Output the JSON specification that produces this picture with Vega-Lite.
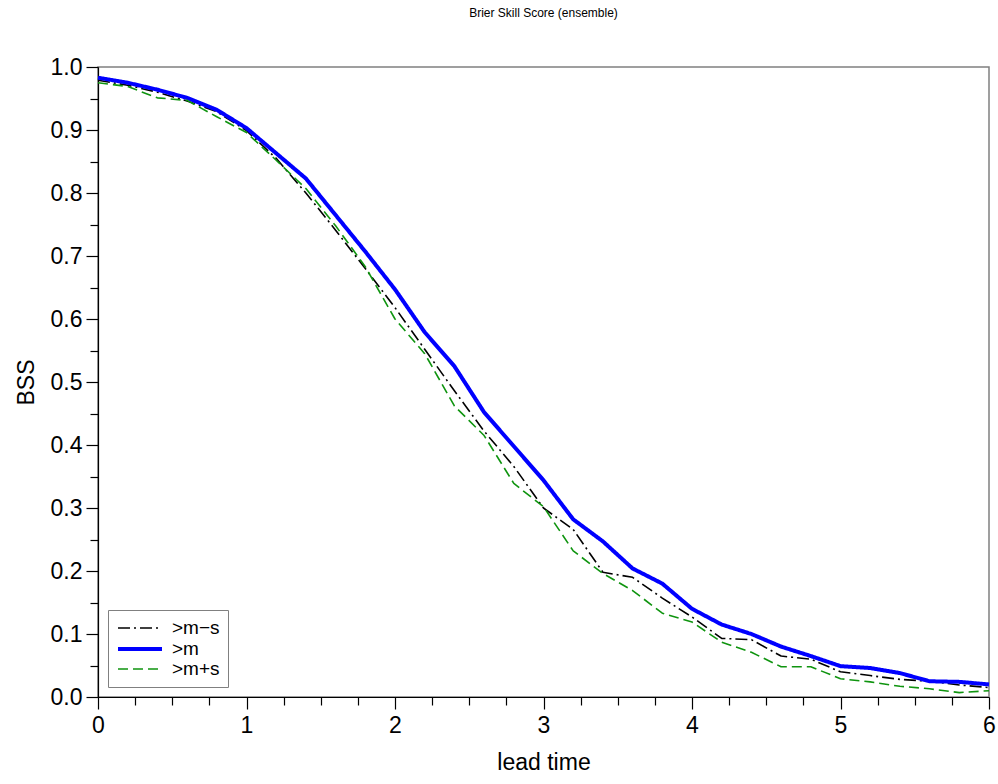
{
  "$schema": "https://vega.github.io/schema/vega-lite/v6.json",
  "width": 891,
  "height": 630,
  "autosize": "none",
  "padding": {"left": 98, "top": 67, "right": 9, "bottom": 87},
  "background": "white",
  "title": {
    "text": "Brier Skill Score (ensemble)",
    "font": "Liberation Sans",
    "fontSize": 12,
    "fontWeight": "normal",
    "color": "black",
    "anchor": "middle",
    "offset": 36
  },
  "config": {
    "font": "Liberation Sans",
    "view": {"stroke": "#808080", "strokeWidth": 1.5},
    "axis": {
      "grid": false,
      "domainColor": "black",
      "domainWidth": 1.2,
      "tickColor": "black",
      "tickWidth": 1.2,
      "labelColor": "black",
      "labelFont": "Liberation Sans",
      "labelFontSize": 23,
      "labelOverlap": false,
      "labelFlush": false,
      "titleColor": "black",
      "titleFont": "Liberation Sans",
      "titleFontSize": 23,
      "titleFontWeight": "normal"
    }
  },
  "data": {
    "values": [
      {"lead": 0.0, "series": ">m−s", "bss": 0.979},
      {"lead": 0.2, "series": ">m−s", "bss": 0.971},
      {"lead": 0.4, "series": ">m−s", "bss": 0.960},
      {"lead": 0.6, "series": ">m−s", "bss": 0.946},
      {"lead": 0.8, "series": ">m−s", "bss": 0.929},
      {"lead": 1.0, "series": ">m−s", "bss": 0.899},
      {"lead": 1.2, "series": ">m−s", "bss": 0.855},
      {"lead": 1.4, "series": ">m−s", "bss": 0.800},
      {"lead": 1.6, "series": ">m−s", "bss": 0.741},
      {"lead": 1.8, "series": ">m−s", "bss": 0.680},
      {"lead": 2.0, "series": ">m−s", "bss": 0.618},
      {"lead": 2.2, "series": ">m−s", "bss": 0.552},
      {"lead": 2.4, "series": ">m−s", "bss": 0.486},
      {"lead": 2.6, "series": ">m−s", "bss": 0.422},
      {"lead": 2.8, "series": ">m−s", "bss": 0.366},
      {"lead": 3.0, "series": ">m−s", "bss": 0.300},
      {"lead": 3.2, "series": ">m−s", "bss": 0.266},
      {"lead": 3.4, "series": ">m−s", "bss": 0.198},
      {"lead": 3.6, "series": ">m−s", "bss": 0.190},
      {"lead": 3.8, "series": ">m−s", "bss": 0.157},
      {"lead": 4.0, "series": ">m−s", "bss": 0.127},
      {"lead": 4.2, "series": ">m−s", "bss": 0.093},
      {"lead": 4.4, "series": ">m−s", "bss": 0.091},
      {"lead": 4.6, "series": ">m−s", "bss": 0.065},
      {"lead": 4.8, "series": ">m−s", "bss": 0.060},
      {"lead": 5.0, "series": ">m−s", "bss": 0.040},
      {"lead": 5.2, "series": ">m−s", "bss": 0.034},
      {"lead": 5.4, "series": ">m−s", "bss": 0.028},
      {"lead": 5.6, "series": ">m−s", "bss": 0.025},
      {"lead": 5.8, "series": ">m−s", "bss": 0.019},
      {"lead": 6.0, "series": ">m−s", "bss": 0.015},

      {"lead": 0.0, "series": ">m", "bss": 0.983},
      {"lead": 0.2, "series": ">m", "bss": 0.975},
      {"lead": 0.4, "series": ">m", "bss": 0.964},
      {"lead": 0.6, "series": ">m", "bss": 0.951},
      {"lead": 0.8, "series": ">m", "bss": 0.932},
      {"lead": 1.0, "series": ">m", "bss": 0.903},
      {"lead": 1.2, "series": ">m", "bss": 0.863},
      {"lead": 1.4, "series": ">m", "bss": 0.823},
      {"lead": 1.6, "series": ">m", "bss": 0.765},
      {"lead": 1.8, "series": ">m", "bss": 0.707},
      {"lead": 2.0, "series": ">m", "bss": 0.647},
      {"lead": 2.2, "series": ">m", "bss": 0.579},
      {"lead": 2.4, "series": ">m", "bss": 0.525},
      {"lead": 2.6, "series": ">m", "bss": 0.452},
      {"lead": 2.8, "series": ">m", "bss": 0.398},
      {"lead": 3.0, "series": ">m", "bss": 0.344},
      {"lead": 3.2, "series": ">m", "bss": 0.282},
      {"lead": 3.4, "series": ">m", "bss": 0.247},
      {"lead": 3.6, "series": ">m", "bss": 0.204},
      {"lead": 3.8, "series": ">m", "bss": 0.180},
      {"lead": 4.0, "series": ">m", "bss": 0.140},
      {"lead": 4.2, "series": ">m", "bss": 0.115},
      {"lead": 4.4, "series": ">m", "bss": 0.100},
      {"lead": 4.6, "series": ">m", "bss": 0.080},
      {"lead": 4.8, "series": ">m", "bss": 0.065},
      {"lead": 5.0, "series": ">m", "bss": 0.049},
      {"lead": 5.2, "series": ">m", "bss": 0.046},
      {"lead": 5.4, "series": ">m", "bss": 0.038},
      {"lead": 5.6, "series": ">m", "bss": 0.025},
      {"lead": 5.8, "series": ">m", "bss": 0.024},
      {"lead": 6.0, "series": ">m", "bss": 0.020},

      {"lead": 0.0, "series": ">m+s", "bss": 0.975},
      {"lead": 0.2, "series": ">m+s", "bss": 0.969},
      {"lead": 0.4, "series": ">m+s", "bss": 0.951},
      {"lead": 0.6, "series": ">m+s", "bss": 0.947},
      {"lead": 0.8, "series": ">m+s", "bss": 0.921},
      {"lead": 1.0, "series": ">m+s", "bss": 0.896},
      {"lead": 1.2, "series": ">m+s", "bss": 0.852},
      {"lead": 1.4, "series": ">m+s", "bss": 0.807},
      {"lead": 1.6, "series": ">m+s", "bss": 0.748},
      {"lead": 1.8, "series": ">m+s", "bss": 0.683},
      {"lead": 2.0, "series": ">m+s", "bss": 0.600},
      {"lead": 2.2, "series": ">m+s", "bss": 0.545},
      {"lead": 2.4, "series": ">m+s", "bss": 0.462},
      {"lead": 2.6, "series": ">m+s", "bss": 0.415},
      {"lead": 2.8, "series": ">m+s", "bss": 0.339},
      {"lead": 3.0, "series": ">m+s", "bss": 0.302},
      {"lead": 3.2, "series": ">m+s", "bss": 0.232},
      {"lead": 3.4, "series": ">m+s", "bss": 0.196},
      {"lead": 3.6, "series": ">m+s", "bss": 0.169},
      {"lead": 3.8, "series": ">m+s", "bss": 0.133},
      {"lead": 4.0, "series": ">m+s", "bss": 0.119},
      {"lead": 4.2, "series": ">m+s", "bss": 0.087},
      {"lead": 4.4, "series": ">m+s", "bss": 0.071},
      {"lead": 4.6, "series": ">m+s", "bss": 0.048},
      {"lead": 4.8, "series": ">m+s", "bss": 0.048},
      {"lead": 5.0, "series": ">m+s", "bss": 0.029},
      {"lead": 5.2, "series": ">m+s", "bss": 0.024},
      {"lead": 5.4, "series": ">m+s", "bss": 0.017},
      {"lead": 5.6, "series": ">m+s", "bss": 0.013},
      {"lead": 5.8, "series": ">m+s", "bss": 0.007},
      {"lead": 6.0, "series": ">m+s", "bss": 0.010}
    ]
  },
  "mark": {"type": "line", "strokeCap": "butt", "strokeJoin": "round"},
  "encoding": {
    "x": {
      "field": "lead",
      "type": "quantitative",
      "scale": {"domain": [0, 6], "nice": false, "zero": false},
      "axis": {
        "title": "lead time",
        "titlePadding": 14,
        "values": [0, 0.25, 0.5, 0.75, 1, 1.25, 1.5, 1.75, 2, 2.25, 2.5, 2.75, 3, 3.25, 3.5, 3.75, 4, 4.25, 4.5, 4.75, 5, 5.25, 5.5, 5.75, 6],
        "labelExpr": "datum.value % 1 == 0 ? format(datum.value, 'd') : ''",
        "tickSize": {"condition": {"test": "datum.value % 1 == 0", "value": 12}, "value": 8},
        "labelPadding": 5
      }
    },
    "y": {
      "field": "bss",
      "type": "quantitative",
      "scale": {"domain": [0, 1], "nice": false},
      "axis": {
        "title": "BSS",
        "titlePadding": 12,
        "values": [0, 0.05, 0.1, 0.15, 0.2, 0.25, 0.3, 0.35, 0.4, 0.45, 0.5, 0.55, 0.6, 0.65, 0.7, 0.75, 0.8, 0.85, 0.9, 0.95, 1],
        "labelExpr": "abs(datum.value * 10 - round(datum.value * 10)) < 0.001 ? format(datum.value, '.1f') : ''",
        "tickSize": {"condition": {"test": "abs(datum.value * 10 - round(datum.value * 10)) < 0.001", "value": 12}, "value": 8},
        "labelPadding": 4
      }
    },
    "color": {
      "field": "series",
      "type": "nominal",
      "scale": {"domain": [">m−s", ">m", ">m+s"], "range": ["#000000", "#0000ff", "#0f940f"]},
      "legend": {
        "title": null,
        "orient": "bottom-left",
        "offset": 10,
        "labelFont": "Liberation Sans",
        "labelFontSize": 19,
        "labelColor": "black",
        "labelLimit": 0,
        "labelOffset": 34,
        "strokeColor": "#808080",
        "fillColor": "white",
        "padding": 8,
        "rowPadding": 0,
        "symbolType": "M-1,0H3.889",
        "symbolSize": 324
      }
    },
    "strokeDash": {
      "field": "series",
      "type": "nominal",
      "scale": {"domain": [">m−s", ">m", ">m+s"], "range": [[12, 4, 2, 4], [1, 0], [10, 5]]}
    },
    "strokeWidth": {
      "field": "series",
      "type": "nominal",
      "scale": {"type": "ordinal", "domain": [">m−s", ">m", ">m+s"], "range": [1.6, 4, 1.6]}
    }
  }
}
